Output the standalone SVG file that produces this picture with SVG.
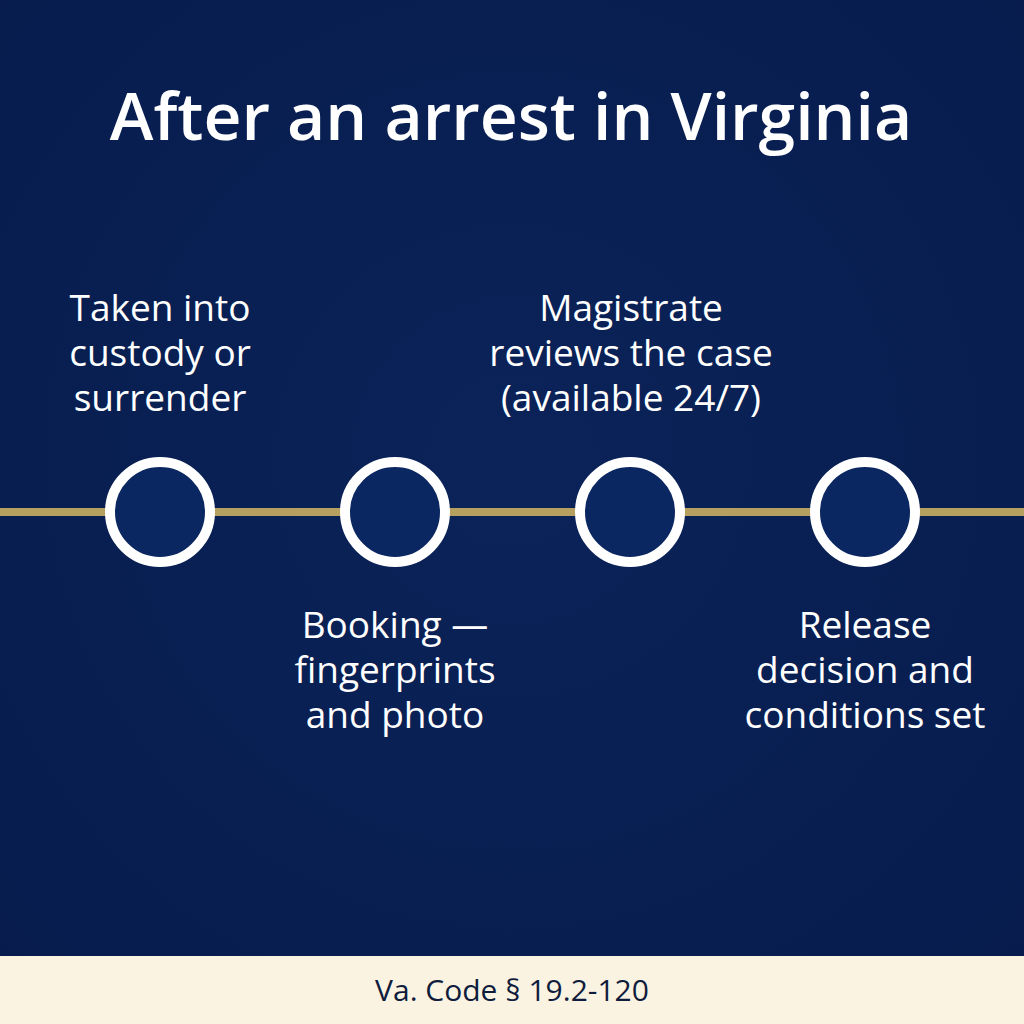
<svg xmlns="http://www.w3.org/2000/svg" width="1024" height="1024" viewBox="0 0 1024 1024">
<defs>
<radialGradient id="bg" cx="50%" cy="45%" r="70%">
<stop offset="0" stop-color="#0b2359"/>
<stop offset="1" stop-color="#071c4d"/>
</radialGradient>
<style>
.title{font-family:"Open Sans","Noto Sans",sans-serif;font-size:66px;font-weight:600;fill:#ffffff;text-anchor:middle}
.lbl{font-family:"Open Sans","Noto Sans",sans-serif;font-size:37px;fill:#ffffff;text-anchor:middle}
.foot{font-family:"Open Sans","Noto Sans",sans-serif;font-size:30px;fill:#0f1c3c;text-anchor:middle}
.node{fill:#0b2761;stroke:#ffffff;stroke-width:10}
</style>
</defs>
<rect width="1024" height="1024" fill="url(#bg)"/>
<text class="title" x="511" y="140">After an arrest in Virginia</text>
<g id="connectors">
<line x1="0" y1="512" x2="1024" y2="512" stroke="#b5a060" stroke-width="8"/>
</g>
<g id="node1">
<circle class="node" cx="160" cy="512" r="50"/>
<text class="lbl" x="160" y="321">Taken into</text>
<text class="lbl" x="160" y="366">custody or</text>
<text class="lbl" x="160" y="411">surrender</text>
</g>
<g id="node2">
<circle class="node" cx="395" cy="512" r="50"/>
<text class="lbl" x="395" y="638">Booking —</text>
<text class="lbl" x="395" y="683">fingerprints</text>
<text class="lbl" x="395" y="728">and photo</text>
</g>
<g id="node3">
<circle class="node" cx="630" cy="512" r="50"/>
<text class="lbl" x="631" y="321">Magistrate</text>
<text class="lbl" x="631" y="366">reviews the case</text>
<text class="lbl" x="631" y="411">(available 24/7)</text>
</g>
<g id="node4">
<circle class="node" cx="865" cy="512" r="50"/>
<text class="lbl" x="865" y="638">Release</text>
<text class="lbl" x="865" y="683">decision and</text>
<text class="lbl" x="865" y="728">conditions set</text>
</g>
<rect x="0" y="956" width="1024" height="68" fill="#faf3e2"/>
<text class="foot" x="512" y="1001">Va. Code § 19.2-120</text>
</svg>
